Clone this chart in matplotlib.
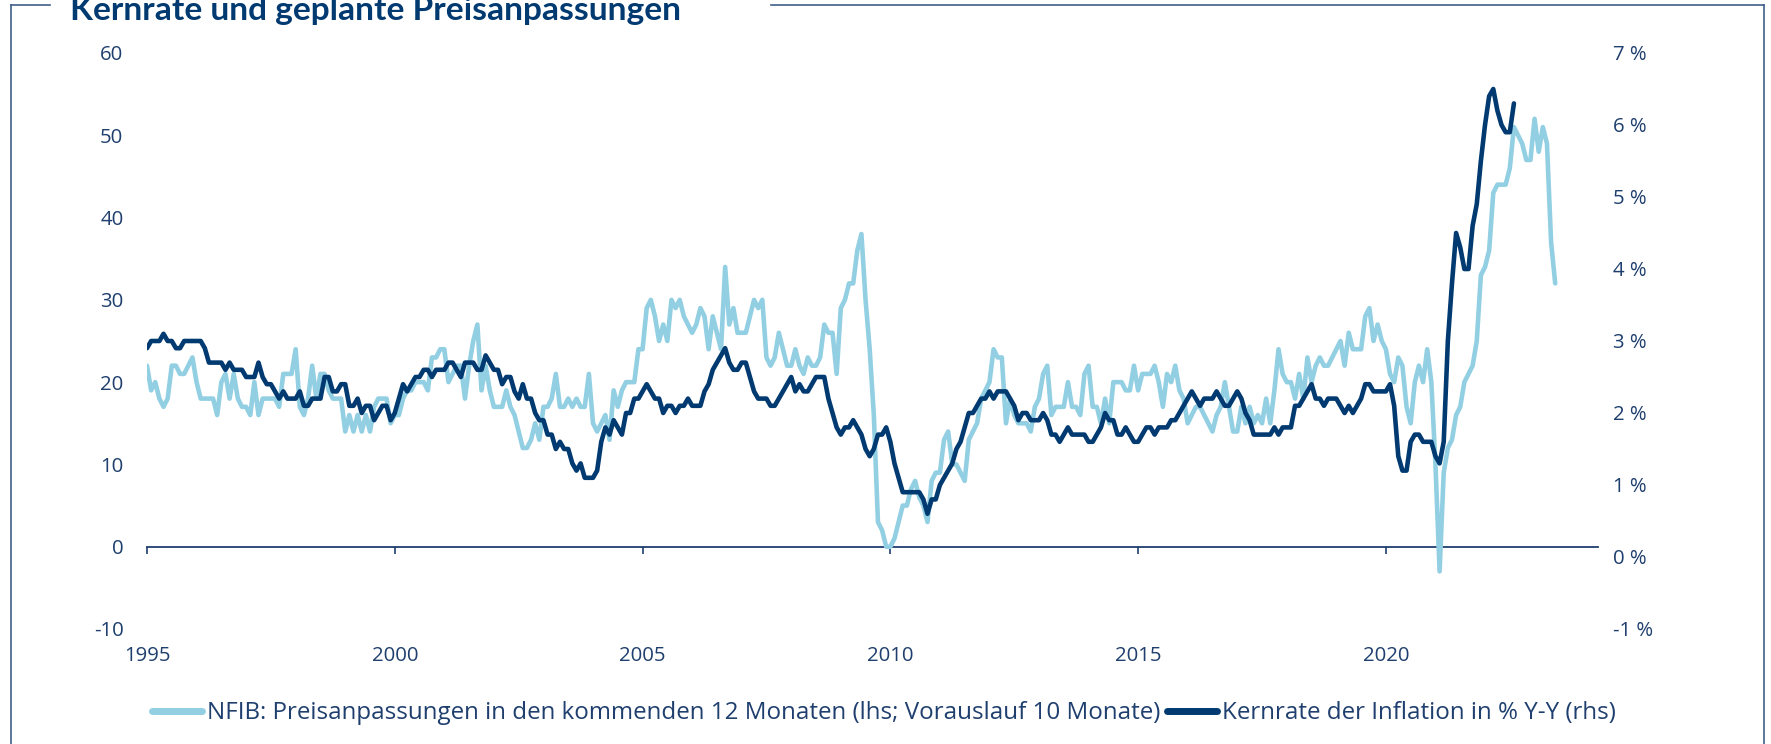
import numpy as np
import matplotlib
matplotlib.use("Agg")
import matplotlib.pyplot as plt
from matplotlib.lines import Line2D

# ---------------- data ----------------
start_year = 1995
# NFIB price plans (net %, lhs), shifted 10 months forward; monthly from Jan 1995
nfib_by_year = [
    [22, 19, 20, 18, 17, 18, 22, 22, 21, 21, 22, 23],   # 1995
    [20, 18, 18, 18, 18, 16, 20, 21, 18, 21, 18, 17],   # 1996
    [17, 16, 20, 16, 18, 18, 18, 18, 17, 21, 21, 21],   # 1997
    [24, 17, 16, 18, 22, 18, 21, 21, 19, 18, 18, 18],   # 1998
    [14, 16, 14, 16, 14, 16, 14, 17, 18, 18, 18, 15],   # 1999
    [16, 16, 18, 19, 19, 20, 20, 20, 19, 23, 23, 24],   # 2000
    [24, 20, 21, 22, 22, 18, 22, 25, 27, 19, 22, 19],   # 2001
    [17, 17, 17, 19, 17, 16, 14, 12, 12, 13, 15, 13],   # 2002
    [17, 17, 18, 21, 17, 17, 18, 17, 18, 17, 17, 21],   # 2003
    [15, 14, 15, 16, 13, 19, 17, 19, 20, 20, 20, 24],   # 2004
    [24, 29, 30, 28, 25, 27, 25, 30, 29, 30, 28, 27],   # 2005
    [26, 27, 29, 28, 24, 28, 26, 24, 34, 27, 29, 26],   # 2006
    [26, 26, 28, 30, 29, 30, 23, 22, 23, 26, 24, 22],   # 2007
    [22, 24, 22, 21, 23, 22, 22, 23, 27, 26, 26, 21],   # 2008
    [29, 30, 32, 32, 36, 38, 30, 24, 16, 3, 2, 0],      # 2009
    [0, 1, 3, 5, 5, 7, 8, 6, 5, 3, 8, 9],               # 2010
    [9, 13, 14, 10, 10, 9, 8, 13, 14, 15, 18, 19],      # 2011
    [20, 24, 23, 23, 15, 18, 16, 15, 15, 15, 14, 17],   # 2012
    [18, 21, 22, 16, 17, 17, 17, 20, 17, 17, 16, 21],   # 2013
    [22, 17, 17, 15, 18, 15, 20, 20, 20, 19, 19, 22],   # 2014
    [19, 21, 21, 21, 22, 20, 17, 21, 20, 22, 19, 18],   # 2015
    [15, 16, 17, 17, 16, 15, 14, 16, 17, 20, 17, 14],   # 2016
    [14, 17, 15, 17, 15, 16, 15, 18, 15, 19, 24, 21],   # 2017
    [20, 20, 18, 21, 18, 23, 20, 22, 23, 22, 22, 23],   # 2018
    [24, 25, 22, 26, 24, 24, 24, 28, 29, 25, 27, 25],   # 2019
    [24, 21, 20, 23, 22, 17, 15, 20, 22, 20, 24, 20],   # 2020
    [10, -3, 9, 12, 13, 16, 17, 20, 21, 22, 25, 33],    # 2021
    [34, 36, 43, 44, 44, 44, 46, 51, 50, 49, 47, 47],   # 2022
    [52, 48, 51, 49, 37, 32],                           # 2023
]
# US core inflation, % y/y (rhs); monthly from Jan 1995
core_by_year = [
    [2.9, 3.0, 3.0, 3.0, 3.1, 3.0, 3.0, 2.9, 2.9, 3.0, 3.0, 3.0],   # 1995
    [3.0, 3.0, 2.9, 2.7, 2.7, 2.7, 2.7, 2.6, 2.7, 2.6, 2.6, 2.6],   # 1996
    [2.5, 2.5, 2.5, 2.7, 2.5, 2.4, 2.4, 2.3, 2.2, 2.3, 2.2, 2.2],   # 1997
    [2.2, 2.3, 2.1, 2.1, 2.2, 2.2, 2.2, 2.5, 2.5, 2.3, 2.3, 2.4],   # 1998
    [2.4, 2.1, 2.1, 2.2, 2.0, 2.1, 2.1, 1.9, 2.0, 2.1, 2.1, 1.9],   # 1999
    [2.0, 2.2, 2.4, 2.3, 2.4, 2.5, 2.5, 2.6, 2.6, 2.5, 2.6, 2.6],   # 2000
    [2.6, 2.7, 2.7, 2.6, 2.5, 2.7, 2.7, 2.7, 2.6, 2.6, 2.8, 2.7],   # 2001
    [2.6, 2.6, 2.4, 2.5, 2.5, 2.3, 2.2, 2.4, 2.2, 2.2, 2.0, 1.9],   # 2002
    [1.9, 1.7, 1.7, 1.5, 1.6, 1.5, 1.5, 1.3, 1.2, 1.3, 1.1, 1.1],   # 2003
    [1.1, 1.2, 1.6, 1.8, 1.7, 1.9, 1.8, 1.7, 2.0, 2.0, 2.2, 2.2],   # 2004
    [2.3, 2.4, 2.3, 2.2, 2.2, 2.0, 2.1, 2.1, 2.0, 2.1, 2.1, 2.2],   # 2005
    [2.1, 2.1, 2.1, 2.3, 2.4, 2.6, 2.7, 2.8, 2.9, 2.7, 2.6, 2.6],   # 2006
    [2.7, 2.7, 2.5, 2.3, 2.2, 2.2, 2.2, 2.1, 2.1, 2.2, 2.3, 2.4],   # 2007
    [2.5, 2.3, 2.4, 2.3, 2.3, 2.4, 2.5, 2.5, 2.5, 2.2, 2.0, 1.8],   # 2008
    [1.7, 1.8, 1.8, 1.9, 1.8, 1.7, 1.5, 1.4, 1.5, 1.7, 1.7, 1.8],   # 2009
    [1.6, 1.3, 1.1, 0.9, 0.9, 0.9, 0.9, 0.9, 0.8, 0.6, 0.8, 0.8],   # 2010
    [1.0, 1.1, 1.2, 1.3, 1.5, 1.6, 1.8, 2.0, 2.0, 2.1, 2.2, 2.2],   # 2011
    [2.3, 2.2, 2.3, 2.3, 2.3, 2.2, 2.1, 1.9, 2.0, 2.0, 1.9, 1.9],   # 2012
    [1.9, 2.0, 1.9, 1.7, 1.7, 1.6, 1.7, 1.8, 1.7, 1.7, 1.7, 1.7],   # 2013
    [1.6, 1.6, 1.7, 1.8, 2.0, 1.9, 1.9, 1.7, 1.7, 1.8, 1.7, 1.6],   # 2014
    [1.6, 1.7, 1.8, 1.8, 1.7, 1.8, 1.8, 1.8, 1.9, 1.9, 2.0, 2.1],   # 2015
    [2.2, 2.3, 2.2, 2.1, 2.2, 2.2, 2.2, 2.3, 2.2, 2.1, 2.1, 2.2],   # 2016
    [2.3, 2.2, 2.0, 1.9, 1.7, 1.7, 1.7, 1.7, 1.7, 1.8, 1.7, 1.8],   # 2017
    [1.8, 1.8, 2.1, 2.1, 2.2, 2.3, 2.4, 2.2, 2.2, 2.1, 2.2, 2.2],   # 2018
    [2.2, 2.1, 2.0, 2.1, 2.0, 2.1, 2.2, 2.4, 2.4, 2.3, 2.3, 2.3],   # 2019
    [2.3, 2.4, 2.1, 1.4, 1.2, 1.2, 1.6, 1.7, 1.7, 1.6, 1.6, 1.6],   # 2020
    [1.4, 1.3, 1.6, 3.0, 3.8, 4.5, 4.3, 4.0, 4.0, 4.6, 4.9, 5.5],   # 2021
    [6.0, 6.4, 6.5, 6.2, 6.0, 5.9, 5.9, 6.3],                       # 2022
]

x_ticks = [1995, 2000, 2005, 2010, 2015, 2020]
x_tick_labels = ["1995", "2000", "2005", "2010", "2015", "2020"]
left_ticks = [-10, 0, 10, 20, 30, 40, 50, 60]
left_tick_labels = ["-10", "0", "10", "20", "30", "40", "50", "60"]
right_ticks = [-1, 0, 1, 2, 3, 4, 5, 6, 7]
right_tick_labels = ["-1 %", "0 %", "1 %", "2 %", "3 %", "4 %", "5 %", "6 %", "7 %"]

title = "Kernrate und geplante Preisanpassungen"
label_nfib = "NFIB: Preisanpassungen in den kommenden 12 Monaten (lhs; Vorauslauf 10 Monate)"
label_core = "Kernrate der Inflation in % Y-Y (rhs)"

# ---------------- derived ----------------
nfib = np.array([v for row in nfib_by_year for v in row], dtype=float)
core = np.array([v for row in core_by_year for v in row], dtype=float)
t_nfib = start_year + np.arange(len(nfib)) / 12.0
t_core = start_year + np.arange(len(core)) / 12.0

# ---------------- style ----------------
LIGHT = "#92cfe3"
DARK = "#003a70"
TXT = "#1f3f6e"
FRAME = "#41608a"
FONT = "Open Sans"
TFONT = "Lato"
PX = 100 / 72.0  # pixels per point

W, H = 1771, 744
fig = plt.figure(figsize=(W / 100, H / 100), dpi=100)
fig.patch.set_facecolor("white")
renderer = fig.canvas.get_renderer()


def fit_size(text, family, target_px, weight="normal", base=12.0):
    t = fig.text(0, 0, text, fontsize=base, family=family, fontweight=weight)
    w = t.get_window_extent(renderer).width
    t.remove()
    return base * target_px / w


tick_size = fit_size("2000", FONT, 47)
leg_size = fit_size(label_nfib, FONT, 948)
title_size = fit_size(title, TFONT, 608, weight="bold")

ax_l, ax_r = 147 / W, 1598 / W
ax_b, ax_t = (H - 629) / H, (H - 53) / H
ax = fig.add_axes([ax_l, ax_b, ax_r - ax_l, ax_t - ax_b])
ax2 = ax.twinx()

ax.plot(t_nfib, nfib, color=LIGHT, lw=3.3, solid_joinstyle="round",
        solid_capstyle="round", label=label_nfib, zorder=2)
ax2.plot(t_core, core, color=DARK, lw=3.3, solid_joinstyle="round",
         solid_capstyle="round", label=label_core, zorder=3)

ax.set_xlim(1995.0, 2024.28)
ax.set_ylim(-10, 60)
ax2.set_ylim(-1, 7)

for a in (ax, ax2):
    for s in a.spines.values():
        s.set_visible(False)
    a.patch.set_visible(False)

ax.set_yticks(left_ticks)
ax.set_yticklabels(left_tick_labels)
ax2.set_yticks(right_ticks)
ax2.set_yticklabels(right_tick_labels)
ax.set_xticks(x_ticks)
ax.set_xticklabels(x_tick_labels)

ax.tick_params(axis="y", length=0, pad=17, labelsize=tick_size, labelcolor=TXT)
ax2.tick_params(axis="y", length=0, pad=11, labelsize=tick_size, labelcolor=TXT)
ax.tick_params(axis="x", length=0, pad=12, labelsize=tick_size, labelcolor=TXT)
for lab in ax.get_xticklabels() + ax.get_yticklabels() + ax2.get_yticklabels():
    lab.set_fontfamily(FONT)

# zero line with downward ticks (secondary x axis at y = 0)
zero_frac = (0 - (-10)) / 70.0
sec = ax.secondary_xaxis(zero_frac)
sec.set_xticks(x_ticks)
sec.tick_params(axis="x", direction="out", length=5, width=1.2, color=TXT,
                labelbottom=False, labeltop=False, bottom=True, top=False)
for k, s in sec.spines.items():
    s.set_visible(k == "bottom")
sec.spines["bottom"].set_color(TXT)
sec.spines["bottom"].set_linewidth(1.3)
sec.xaxis.set_ticks_position("bottom")
sec.tick_params(labelbottom=False)

# legend
h1, l1 = ax.get_legend_handles_labels()
h2, l2 = ax2.get_legend_handles_labels()
fpx = leg_size * PX
leg = fig.legend(h1 + h2, l1 + l2, loc="center", bbox_to_anchor=(884 / W, 1 - 713 / H),
                 ncol=2, frameon=False, handlelength=50 / fpx, handletextpad=5 / fpx,
                 columnspacing=6 / fpx, borderpad=0,
                 prop={"family": FONT, "size": leg_size})
for txt in leg.get_texts():
    txt.set_color(TXT)
for ln in leg.get_lines():
    ln.set_linewidth(5)
    ln.set_solid_capstyle("round")

# title (partly clipped by the top edge, as in the original) and frame
fig.text(70 / W, 1 - 20 / H, title, fontsize=title_size, fontweight="bold", color=DARK,
         family=TFONT, va="baseline", ha="left")
fy = 1 - 4.5 / H
fx0, fx1 = 11 / W, 1764 / W
frame_kw = dict(color=FRAME, lw=1.2, transform=fig.transFigure)
fig.add_artist(Line2D([fx0, fx0], [0, fy], **frame_kw))
fig.add_artist(Line2D([fx0, 50 / W], [fy, fy], **frame_kw))
fig.add_artist(Line2D([771 / W, fx1], [fy, fy], **frame_kw))
fig.add_artist(Line2D([fx1, fx1], [fy, 0], **frame_kw))

fig.savefig("out.png", dpi=100)
